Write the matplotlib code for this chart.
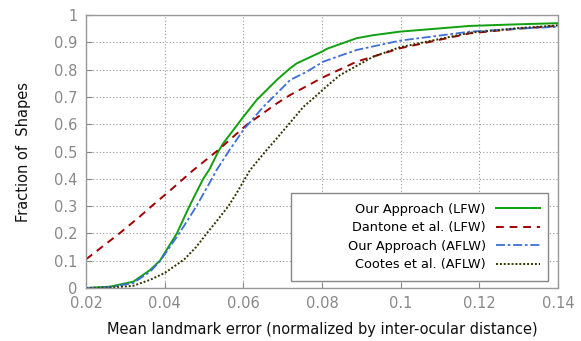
import matplotlib
matplotlib.use('Agg')
import matplotlib.pyplot as plt
from matplotlib.patches import Rectangle
from matplotlib.ticker import FuncFormatter

# Our Approach (LFW)
x_ours_lfw = [0.02, 0.0261, 0.032, 0.0363, 0.0388, 0.0431, 0.0463, 0.0498, 0.0514, 0.0536,
              0.0549, 0.06, 0.0634, 0.0685, 0.0719, 0.0736, 0.0803, 0.0812, 0.0888, 0.093,
              0.0998, 0.1176, 0.13, 0.14]
y_ours_lfw = [0.0, 0.005, 0.023, 0.066, 0.1, 0.2, 0.3, 0.4, 0.435, 0.499,
              0.53, 0.627, 0.689, 0.762, 0.805, 0.823, 0.868, 0.876, 0.915, 0.926,
              0.939, 0.96, 0.966, 0.97]

# Dantone et al. (LFW)
x_dantone = [0.02, 0.0285, 0.0337, 0.0367, 0.0412, 0.0473, 0.0536, 0.0608, 0.0685, 0.0719,
             0.0803, 0.0888, 0.0998, 0.1176, 0.13, 0.14]
y_dantone = [0.105, 0.2, 0.262, 0.3, 0.355, 0.432, 0.505, 0.597, 0.676, 0.707,
             0.772, 0.829, 0.878, 0.933, 0.95, 0.96]

# Our Approach (AFLW)
x_ours_aflw = [0.02, 0.0261, 0.032, 0.0363, 0.0389, 0.0437, 0.0481, 0.052, 0.0532, 0.0562,
               0.06, 0.0651, 0.0702, 0.0719, 0.0761, 0.0803, 0.0888, 0.0998, 0.1176, 0.13,
               0.14]
y_ours_aflw = [0.0, 0.003, 0.018, 0.06, 0.1, 0.2, 0.3, 0.4, 0.432, 0.499,
               0.579, 0.664, 0.737, 0.762, 0.792, 0.829, 0.872, 0.906, 0.939, 0.95,
               0.957]

# Cootes et al. (AFLW)
x_cootes = [0.02, 0.027, 0.032, 0.0363, 0.04, 0.043, 0.045, 0.048, 0.0507, 0.0535,
            0.0562, 0.0584, 0.0604, 0.0617, 0.0659, 0.0685, 0.0753, 0.0778, 0.0816, 0.0846,
            0.093, 0.0998, 0.1176, 0.13, 0.14]
y_cootes = [0.0, 0.002, 0.008, 0.03, 0.055, 0.085, 0.105, 0.15, 0.2, 0.25,
            0.3, 0.35, 0.4, 0.432, 0.505, 0.548, 0.664, 0.695, 0.744, 0.78,
            0.847, 0.882, 0.935, 0.952, 0.962]

labels = ['Our Approach (LFW)', 'Dantone et al. (LFW)',
          'Our Approach (AFLW)', 'Cootes et al. (AFLW)']

fig = plt.figure(figsize=(5.81, 3.41), dpi=100)
ax = fig.add_axes([86/581, 1 - 288/341, 472/581, 273/341])

ax.plot(x_ours_lfw, y_ours_lfw, '-', color='#10a010', lw=1.4, label=labels[0])
ax.plot(x_dantone, y_dantone, '--', color='#a00000', lw=1.4, dashes=(4, 3), label=labels[1])
ax.plot(x_ours_aflw, y_ours_aflw, '-.', color='#3c6fd8', lw=1.3, dashes=(5, 1.5, 1.5, 1.5),
        label=labels[2])
ax.plot(x_cootes, y_cootes, ':', color='#333300', lw=1.4, dashes=(1, 1), label=labels[3])

ax.set_xlim(0.02, 0.14)
ax.set_ylim(0, 1)
ax.set_xticks([0.02, 0.04, 0.06, 0.08, 0.10, 0.12, 0.14])
ax.set_yticks([i / 10 for i in range(11)])
ax.xaxis.set_major_formatter(FuncFormatter(lambda v, p: f'{v:g}'))
ax.yaxis.set_major_formatter(FuncFormatter(lambda v, p: f'{v:g}'))
ax.tick_params(axis='both', colors='#888888', labelsize=10.5, direction='in', length=4,
               width=0.8, pad=6)
ax.grid(True, color='#999999', linestyle=(0, (1, 2)), linewidth=0.8)
for s in ax.spines.values():
    s.set_color('#999999')
    s.set_linestyle((0, (1, 1)))
    s.set_linewidth(1.0)

ax.set_xlabel('Mean landmark error (normalized by inter-ocular distance)', fontsize=10.5,
              color='#111111', labelpad=8)
ax.set_ylabel('Fraction of  Shapes', fontsize=10.5, color='#111111', labelpad=17)

# legend box (gnuplot style: wide frame, labels right aligned, samples on the right)
ax.add_patch(Rectangle((0.434, 0.0256), 0.544, 0.322, transform=ax.transAxes,
                       facecolor='white', edgecolor='#888888', lw=1.0, zorder=4))
leg = ax.legend(loc='center right', bbox_to_anchor=(0.962, 0.187), markerfirst=False,
                fontsize=9.3, frameon=False, handlelength=3.4,
                labelspacing=0.42, borderpad=0, borderaxespad=0, handletextpad=0.8)
leg.set_zorder(5)
for t in leg.get_texts():
    t.set_ha('right')
leg._legend_box.align = 'right'

fig.savefig('out.png', dpi=100)
